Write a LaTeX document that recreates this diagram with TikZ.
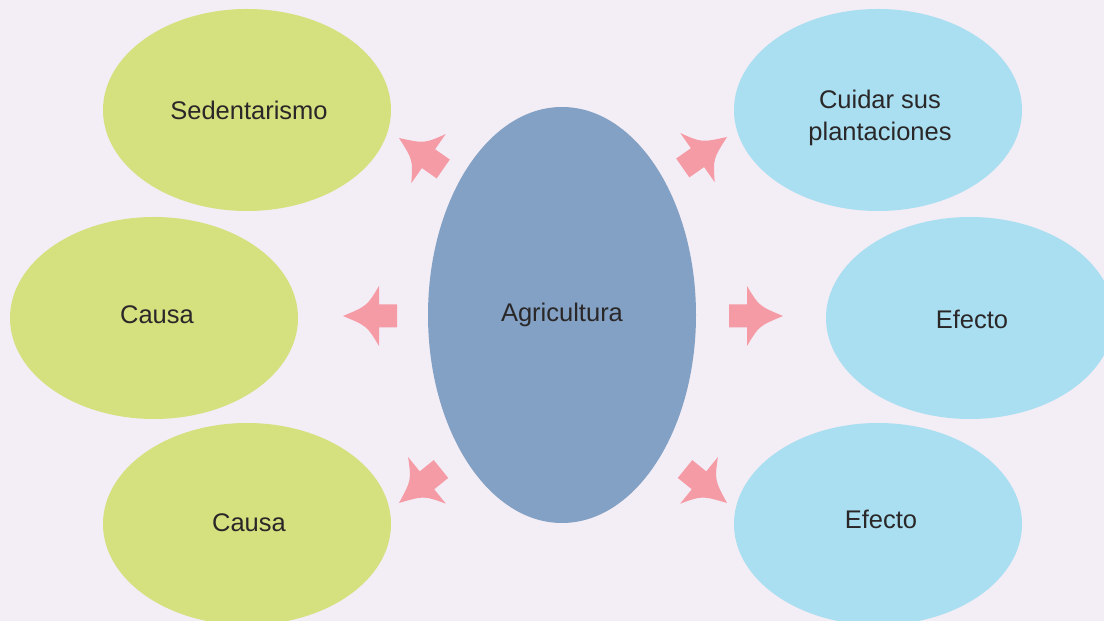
\documentclass[tikz,border=0pt]{standalone}
\usepackage{fontspec}
\setmainfont{Liberation Sans}
\usetikzlibrary{shapes.geometric}
\definecolor{bgc}{HTML}{F3EDF5}
\definecolor{greenc}{HTML}{D5E07F}
\definecolor{agric}{HTML}{82A1C4}
\definecolor{cyanc}{HTML}{A9DFF1}
\definecolor{pinkc}{HTML}{F59BA6}
\definecolor{txtc}{HTML}{2A2728}
\tikzset{
  bubble/.style={ellipse, inner sep=0pt, minimum width=288pt, minimum height=202pt},
  causebubble/.style={bubble, fill=greenc},
  effectbubble/.style={bubble, fill=cyanc},
  lbl/.style={text=txtc, font=\fontsize{25.5}{32}\selectfont, align=center, inner sep=0pt},
  bigarrow/.pic={\fill[pinkc] (0,0) .. controls (-24,10) .. (-36,30) -- (-36,11.5) -- (-54,11.5)
     -- (-54,-11.5) -- (-36,-11.5) -- (-36,-30) .. controls (-24,-10) .. (0,0) -- cycle;}
}
\begin{document}
\begin{tikzpicture}[x=1pt,y=1pt]
\fill[bgc] (0,0) rectangle (1104,621);
\useasboundingbox (0,0) rectangle (1104,621);
\begin{scope}
\clip (0,0) rectangle (1104,621);
\node[causebubble] (sed) at (247,511) {};
\node[causebubble] (causa1) at (154,303) {};
\node[causebubble] (causa2) at (247,97) {};
\node[effectbubble] (cuidar) at (878,511) {};
\node[effectbubble] (efecto1) at (970,303) {};
\node[effectbubble] (efecto2) at (878,97) {};
\node[bubble, fill=agric, minimum width=268pt, minimum height=416pt] (agri) at (562,306) {};
\end{scope}
\node[lbl] (sed-t) at ([shift={(2,0)}]sed.center) {Sedentarismo};
\node[lbl] (causa1-t) at ([shift={(3,3)}]causa1.center) {Causa};
\node[lbl] (causa2-t) at ([shift={(2,1)}]causa2.center) {Causa};
\node[lbl] (cuidar-t) at ([shift={(2,-8)}]cuidar.center) {Cuidar sus\\plantaciones};
\node[lbl] (efecto1-t) at ([shift={(2,-1)}]efecto1.center) {Efecto};
\node[lbl] (efecto2-t) at ([shift={(3,5)}]efecto2.center) {Efecto};
\node[lbl] (agri-t) at ([shift={(0,0)}]agri.center) {Agricultura};
\pic[rotate=145] (a1) at (399,483) {bigarrow};
\pic[rotate=180] (a2) at (343,305) {bigarrow};
\pic[rotate=219] (a3) at (399,118) {bigarrow};
\pic[rotate=35] (a4) at (727,484) {bigarrow};
\pic[rotate=0] (a5) at (783,305) {bigarrow};
\pic[rotate=-39] (a6) at (727,118) {bigarrow};
\end{tikzpicture}
\end{document}
